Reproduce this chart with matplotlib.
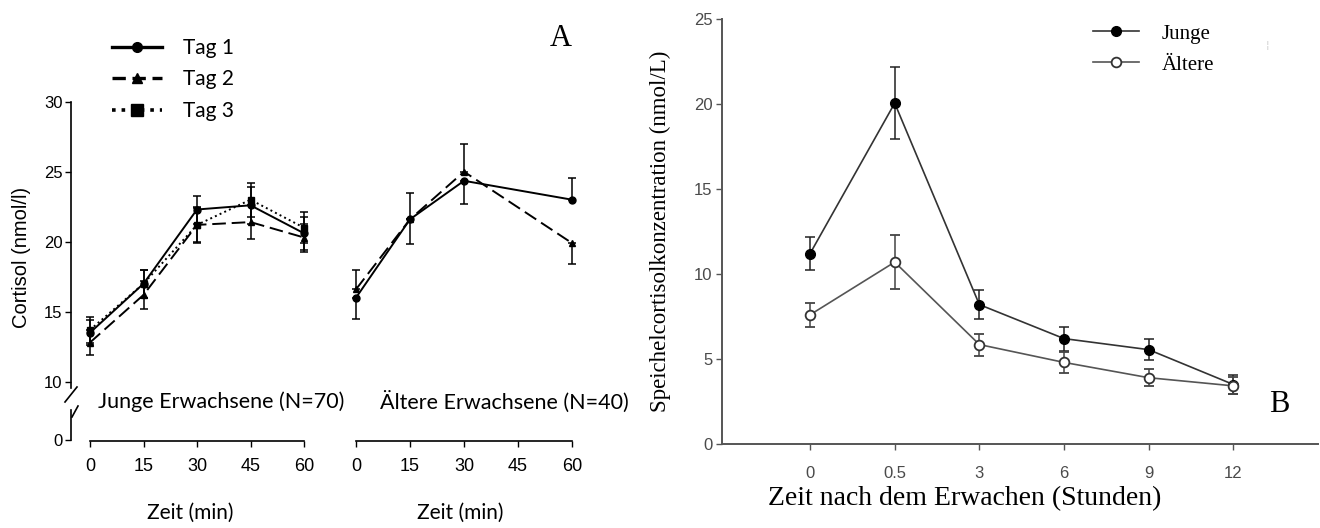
import matplotlib
matplotlib.use('Agg')
import matplotlib.pyplot as plt
from matplotlib.lines import Line2D

# Panel A data: cortisol (nmol/l) after awakening, minutes
minutes = [0, 15, 30, 45, 60]
young_tag1 = [13.5, 17.0, 22.3, 22.6, 20.6]
young_tag2 = [12.8, 16.2, 21.2, 21.4, 20.3]
young_tag3 = [13.7, 17.0, 21.2, 23.0, 21.0]
young_err1 = [0.9, 1.0, 1.0, 1.3, 1.2]
young_err2 = [0.9, 1.0, 1.3, 1.2, 1.0]
young_err3 = [0.9, 1.0, 1.2, 1.2, 1.1]

old_minutes = [0, 15, 30, 60]
old_tag1 = [16.0, 21.6, 24.35, 23.0]
old_tag2 = [16.6, 21.6, 25.0, 19.9]
old_err1_lo = [1.5, 1.75, 1.65, 0.0]
old_err1_hi = [0.0, 0.0, 0.0, 1.55]
old_err2_lo = [0.0, 0.0, 0.0, 1.5]
old_err2_hi = [1.4, 1.85, 2.0, 0.0]

# Panel B data: saliva cortisol (nmol/L) by hours after awakening
hours = ['0', '0.5', '3', '6', '9', '12']
junge = [11.2, 20.05, 8.2, 6.2, 5.55, 3.5]
junge_err = [0.95, 2.1, 0.85, 0.7, 0.6, 0.55]
aeltere = [7.6, 10.7, 5.85, 4.8, 3.9, 3.42]
aeltere_err = [0.7, 1.6, 0.65, 0.6, 0.5, 0.5]

W, H = 1320, 528
fig = plt.figure(figsize=(W / 100, H / 100), dpi=100)


def rect(l, t, r, b):
    return [l / W, 1 - b / H, (r - l) / W, (b - t) / H]


def fx(x):
    return x / W


def fy(y):
    return 1 - y / H


calibri = 'Lato'
narrow = ['Liberation Sans Narrow', 'Liberation Sans']
serif = 'Liberation Serif'

# ---------- Panel A ----------
ax_y = fig.add_axes(rect(71, 101.7, 310, 388))
ax_o = fig.add_axes(rect(340, 101.7, 580, 388))
ax_yb = fig.add_axes(rect(71, 410, 310, 441))
ax_ob = fig.add_axes(rect(340, 410, 580, 441))

styles = dict(color='black', lw=1.4, capsize=3, elinewidth=1.1, capthick=1.1)
ax_y.errorbar(minutes, young_tag1, yerr=young_err1, fmt='-o', ms=5, **styles)
ax_y.errorbar(minutes, young_tag2, yerr=young_err2, fmt='--^', ms=5, dashes=(7, 3), **styles)
ax_y.errorbar(minutes, young_tag3, yerr=young_err3, fmt=':s', ms=5, **styles)

ax_o.errorbar(old_minutes, old_tag1, yerr=[old_err1_lo, old_err1_hi], fmt='-o', ms=5, **styles)
ax_o.errorbar(old_minutes, old_tag2, yerr=[old_err2_lo, old_err2_hi], fmt='--^', ms=5, dashes=(7, 3), **styles)

for ax, x0px, x60px, l, r in [(ax_y, 90, 304, 71, 310), (ax_o, 356, 572, 340, 580)]:
    ppm = (x60px - x0px) / 60
    xl = (0 - (x0px - l) / ppm, 60 + (r - x60px) / ppm)
    ax.set_xlim(*xl)
    ax.set_ylim(9.55, 30)
    for s in ['top', 'right', 'bottom']:
        ax.spines[s].set_visible(False)
    ax.set_xticks([])

ax_o.spines['left'].set_visible(False)
ax_o.set_yticks([])
ax_y.set_yticks([10, 15, 20, 25, 30])
ax_y.tick_params(axis='y', length=4, width=1, pad=2, labelsize=12)
for t in ax_y.get_yticklabels():
    t.set_fontfamily(narrow)
ax_y.spines['left'].set_linewidth(1.2)

for ax, xl in [(ax_yb, ax_y.get_xlim()), (ax_ob, ax_o.get_xlim())]:
    ax.set_xlim(*xl)
    ax.set_ylim(-0.071, 2.14)
    ax.set_xticks(minutes)
    ax.tick_params(axis='x', length=4, width=1, pad=8, labelsize=13)
    for t in ax.get_xticklabels():
        t.set_fontfamily(narrow)
    for s in ['top', 'right']:
        ax.spines[s].set_visible(False)
    ax.spines['bottom'].set_bounds(0, 60)
    ax.spines['bottom'].set_linewidth(1.2)
    ax.set_xlabel('Zeit (min)', fontfamily=calibri, fontsize=15, labelpad=20)
    ax.patch.set_alpha(0)

ax_yb.set_yticks([0])
ax_yb.tick_params(axis='y', length=4, width=1, pad=2, labelsize=12)
for t in ax_yb.get_yticklabels():
    t.set_fontfamily(narrow)
ax_yb.spines['left'].set_bounds(0, 2.14)
ax_yb.spines['left'].set_linewidth(1.2)
ax_ob.spines['left'].set_visible(False)
ax_ob.set_yticks([])

# axis break marks
for (xa, ya, xb, yb) in [(65, 402, 77, 387), (72, 417, 78, 406)]:
    fig.add_artist(Line2D([fx(xa), fx(xb)], [fy(ya), fy(yb)], color='black', lw=1.2))

fig.text(fx(22), fy(257), 'Cortisol (nmol/l)', rotation=90, ha='center', va='center',
         fontfamily='Liberation Sans', fontsize=14.5)
fig.text(fx(98), fy(402), 'Junge Erwachsene (N=70)', ha='left', va='center',
         fontfamily=calibri, fontsize=15.5)
fig.text(fx(380), fy(402), 'Ältere Erwachsene (N=40)', ha='left', va='center',
         fontfamily=calibri, fontsize=15.5)
fig.text(fx(561), fy(39), 'A', ha='center', va='center', fontfamily=serif, fontsize=22)

leg_handles = [
    Line2D([], [], color='black', lw=2.4, marker='o', ms=7),
    Line2D([], [], color='black', lw=2.4, ls=(0, (4, 2)), marker='^', ms=7),
    Line2D([], [], color='black', lw=2.6, ls=':', marker='s', ms=8),
]
fig.legend(leg_handles, ['Tag 1', 'Tag 2', 'Tag 3'],
           loc='upper left', bbox_to_anchor=(fx(112), fy(38)), frameon=False,
           prop={'family': calibri, 'size': 15}, handlelength=2.4, handletextpad=1.0,
           labelspacing=0.55, borderpad=0, borderaxespad=0)

# ---------- Panel B ----------
axb = fig.add_axes(rect(722, 19, 1318, 444))
xpos = list(range(len(hours)))
lj = axb.errorbar(xpos, junge, yerr=junge_err, fmt='-o', color='#333333', mfc='black', mec='black',
                  ms=7, lw=1.2, capsize=3.5, elinewidth=1.1, capthick=1.1, ecolor='#222222', zorder=3)
la = axb.errorbar(xpos, aeltere, yerr=aeltere_err, fmt='-o', color='#555555', mfc='white', mec='#333333',
                  mew=1.3, ms=7, lw=1.2, capsize=3.5, elinewidth=1.1, capthick=1.1, ecolor='#444444', zorder=3)
axb.set_xlim(-1.04, 6.0)
axb.set_ylim(0, 25)
axb.set_xticks(xpos)
axb.set_xticklabels(hours)
axb.set_yticks([0, 5, 10, 15, 20, 25])
for s in ['top', 'right']:
    axb.spines[s].set_visible(False)
for s in ['left', 'bottom']:
    axb.spines[s].set_color('#555555')
    axb.spines[s].set_linewidth(1.4)
axb.tick_params(length=4, width=1, color='#555555', labelcolor='#4a4a4a', labelsize=12, pad=3)
axb.tick_params(axis='x', pad=12)
for t in axb.get_xticklabels() + axb.get_yticklabels():
    t.set_fontfamily('Liberation Sans')

fig.text(fx(660), fy(231), 'Speichelcortisolkonzentration (nmol/L)', rotation=90,
         ha='center', va='center', fontfamily=serif, fontsize=16.5)
fig.text(fx(965), fy(499), 'Zeit nach dem Erwachen (Stunden)', ha='center', va='center',
         fontfamily=serif, fontsize=20)
fig.text(fx(1279), fy(405), 'B', ha='center', va='center', fontfamily=serif, fontsize=22)
fig.text(fx(1267), fy(45), '¦', ha='center', va='center', color='#cccccc', fontsize=8)

axb.legend([lj[0], la[0]], ['Junge', 'Ältere'], loc='upper left',
           bbox_to_anchor=(fx(1093), fy(24)), bbox_transform=fig.transFigure, frameon=False,
           prop={'family': serif, 'size': 15}, handlelength=2.2, handletextpad=1.1,
           labelspacing=0.55, borderpad=0, borderaxespad=0)

fig.savefig('out.png', dpi=100)
